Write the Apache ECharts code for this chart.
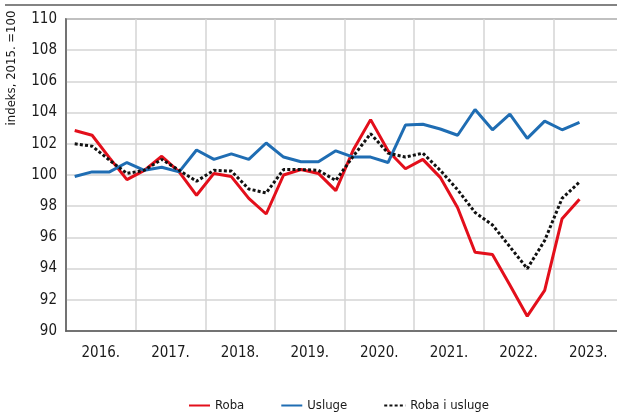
<!DOCTYPE html>
<html>
<head>
<meta charset="utf-8">
<script src="https://cdn.jsdelivr.net/npm/echarts@6/dist/echarts.min.js"></script>
<style>
  html, body { margin: 0; padding: 0; background: #fff; }
  #main { width: 617px; height: 414px; }
</style>
</head>
<body>
<div id="main"></div>
<script>
    var FONT = '"Liberation Sans Narrow", "DejaVu Sans Condensed", "Roboto", sans-serif';

    var years = ['2016.', '2017.', '2018.', '2019.', '2020.', '2021.', '2022.', '2023.'];
    var quarters = [];
    years.forEach(function(y) {
        for (var q = 1; q <= 4; q++) quarters.push(y + ' Q' + q);
    });

    // kvartalni podaci, 2016. Q1 - 2023. Q2
    var roba = [
        102.85, 102.55, 101.1, 99.7,
        100.3, 101.2, 100.2, 98.7,
        100.1, 99.9, 98.5, 97.5,
        100.0, 100.35, 100.1, 99.0,
        101.6, 103.55, 101.55, 100.4,
        101.0, 99.85, 97.9, 95.05,
        94.9, 92.95, 90.95, 92.6,
        97.2, 98.45
    ];
    var usluge = [
        99.9, 100.2, 100.2, 100.8,
        100.3, 100.5, 100.2, 101.6,
        101.0, 101.35, 101.0, 102.05,
        101.15, 100.85, 100.85, 101.55,
        101.15, 101.15, 100.8, 103.2,
        103.25, 102.95, 102.55, 104.2,
        102.9, 103.9, 102.35, 103.45,
        102.9, 103.38
    ];
    var ukupno = [
        102.0, 101.85, 100.95, 100.1,
        100.3, 101.0, 100.3, 99.6,
        100.3, 100.25, 99.1, 98.85,
        100.35, 100.35, 100.3, 99.65,
        101.2, 102.65, 101.4, 101.15,
        101.4, 100.3, 99.05, 97.6,
        96.8, 95.4, 94.0, 95.8,
        98.5, 99.55
    ];

    var chart = echarts.init(document.getElementById('main'));

    var option = {
        animation: false,
        backgroundColor: '#fff',
        textStyle: { fontFamily: FONT },
        grid: {
            left: 66,
            top: 19,
            width: 557,
            height: 312,
            outerBoundsMode: 'none',
            containLabel: false,
            show: true,
            borderColor: '#5a5a5a',
            borderWidth: 1.5
        },
        graphic: [{
            type: 'line',
            shape: { x1: 5, y1: 5, x2: 617, y2: 5 },
            style: { stroke: '#5a5a5a', lineWidth: 1.5 }
        }, {
            type: 'text',
            x: 12,
            y: 68,
            rotation: Math.PI / 2,
            style: {
                text: 'indeks, 2015. =100',
                fontFamily: FONT,
                fontSize: 13,
                fill: '#1a1a1a',
                align: 'center',
                verticalAlign: 'middle'
            }
        }],
        legend: {
            left: 183,
            top: 394,
            itemWidth: 21,
            itemHeight: 12,
            itemGap: 36,
            itemStyle: { opacity: 0 },
            textStyle: { fontFamily: FONT, fontSize: 13, color: '#1a1a1a' },
            data: ['Roba', 'Usluge', 'Roba i usluge']
        },
        xAxis: [{
            type: 'category',
            data: quarters,
            boundaryGap: true,
            axisLine: { show: true, lineStyle: { color: '#5a5a5a', width: 1.5 } },
            axisTick: { show: false },
            axisLabel: { show: false },
            splitLine: {
                show: true,
                interval: 3,
                lineStyle: { color: '#d4d4d4', width: 1.5 }
            }
        }, {
            type: 'category',
            data: years,
            position: 'bottom',
            boundaryGap: true,
            axisLine: { show: false },
            axisTick: { show: false },
            splitLine: { show: false },
            axisLabel: {
                margin: 15,
                fontFamily: FONT,
                fontSize: 15,
                color: '#1a1a1a'
            }
        }],
        yAxis: {
            type: 'value',
            min: 90,
            max: 110,
            interval: 2,
            axisLine: { show: true, lineStyle: { color: '#5a5a5a', width: 1.5 } },
            axisTick: { show: false },
            axisLabel: {
                margin: 9,
                fontFamily: FONT,
                fontSize: 15,
                color: '#1a1a1a'
            },
            splitLine: { lineStyle: { color: '#d4d4d4', width: 1.5 } }
        },
        series: [{
            name: 'Roba',
            type: 'line',
            data: roba,
            symbol: 'none',
            color: '#e30f1b',
            lineStyle: { color: '#e30f1b', width: 3 }
        }, {
            name: 'Usluge',
            type: 'line',
            data: usluge,
            symbol: 'none',
            color: '#1f6db3',
            lineStyle: { color: '#1f6db3', width: 3 }
        }, {
            name: 'Roba i usluge',
            type: 'line',
            data: ukupno,
            symbol: 'none',
            color: '#111',
            lineStyle: { color: '#111', width: 3, type: [3, 2.2] }
        }]
    };

    chart.setOption(option);
</script>
</body>
</html>
